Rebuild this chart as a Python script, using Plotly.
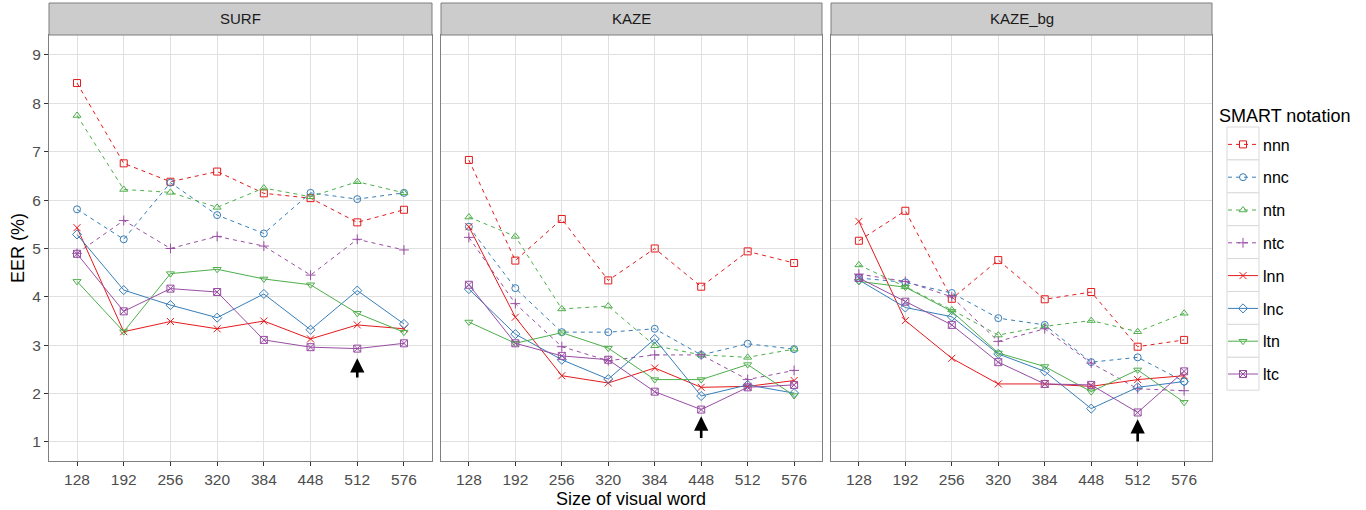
import plotly.graph_objects as go

# ---------------- data ----------------
sizes = [128, 192, 256, 320, 384, 448, 512, 576]
size_labels = ["128", "192", "256", "320", "384", "448", "512", "576"]
panels = ["SURF", "KAZE", "KAZE_bg"]
series = ["nnn", "nnc", "ntn", "ntc", "lnn", "lnc", "ltn", "ltc"]

surf_nnn = [8.42, 6.76, 6.38, 6.59, 6.14, 6.04, 5.54, 5.80]
surf_nnc = [5.81, 5.19, 6.36, 5.69, 5.31, 6.15, 6.02, 6.15]
surf_ntn = [7.75, 6.22, 6.16, 5.85, 6.25, 6.07, 6.38, 6.15]
surf_ntc = [4.90, 5.58, 5.00, 5.25, 5.05, 4.45, 5.19, 4.97]
surf_lnn = [5.43, 3.28, 3.49, 3.34, 3.50, 3.13, 3.42, 3.34]
surf_lnc = [5.29, 4.14, 3.83, 3.57, 4.06, 3.32, 4.13, 3.44]
surf_ltn = [4.32, 3.28, 4.48, 4.57, 4.37, 4.25, 3.66, 3.27]
surf_ltc = [4.89, 3.70, 4.17, 4.10, 3.11, 2.96, 2.93, 3.04]

kaze_nnn = [6.83, 4.75, 5.61, 4.34, 5.00, 4.21, 4.94, 4.70]
kaze_nnc = [5.45, 4.18, 3.27, 3.27, 3.34, 2.80, 3.03, 2.92]
kaze_ntn = [5.65, 5.25, 3.75, 3.81, 2.99, 2.80, 2.75, 2.92]
kaze_ntc = [5.23, 3.86, 2.97, 2.68, 2.80, 2.80, 2.29, 2.48]
kaze_lnn = [5.45, 3.58, 2.37, 2.22, 2.53, 2.13, 2.15, 2.27]
kaze_lnc = [4.16, 3.23, 2.70, 2.30, 3.13, 1.95, 2.18, 2.01]
kaze_ltn = [3.48, 3.04, 3.26, 2.94, 2.29, 2.29, 2.60, 1.96]
kaze_ltc = [4.25, 3.04, 2.78, 2.70, 2.04, 1.67, 2.13, 2.18]

kazebg_nnn = [5.16, 5.78, 3.96, 4.76, 3.95, 4.10, 2.97, 3.11]
kazebg_nnc = [4.39, 4.30, 4.08, 3.56, 3.42, 2.65, 2.75, 2.25]
kazebg_ntn = [4.66, 4.21, 3.73, 3.21, 3.39, 3.51, 3.28, 3.66]
kazebg_ntc = [4.47, 4.32, 4.00, 3.08, 3.34, 2.63, 2.10, 2.06]
kazebg_lnn = [5.56, 3.51, 2.73, 2.20, 2.20, 2.15, 2.29, 2.37]
kazebg_lnc = [4.35, 3.78, 3.59, 2.82, 2.46, 1.69, 2.13, 2.25]
kazebg_ltn = [4.32, 4.20, 3.70, 2.84, 2.56, 2.04, 2.49, 1.82]
kazebg_ltc = [4.39, 3.90, 3.42, 2.65, 2.20, 2.18, 1.61, 2.46]

# best configuration arrows: (x position, arrow head value, arrow tail value)
arrow_x = [512, 448, 512]
arrow_head = [2.73, 1.53, 1.47]
arrow_tail = [2.30, 1.05, 0.98]

panel_data = [
    [surf_nnn, surf_nnc, surf_ntn, surf_ntc, surf_lnn, surf_lnc, surf_ltn, surf_ltc],
    [kaze_nnn, kaze_nnc, kaze_ntn, kaze_ntc, kaze_lnn, kaze_lnc, kaze_ltn, kaze_ltc],
    [kazebg_nnn, kazebg_nnc, kazebg_ntn, kazebg_ntc, kazebg_lnn, kazebg_lnc, kazebg_ltn, kazebg_ltc],
]

# ---------------- styles ----------------
RED, BLUE, GREEN, PURPLE = "#E41A1C", "#377EB8", "#4DAF4A", "#984EA3"
colors = [RED, BLUE, GREEN, PURPLE, RED, BLUE, GREEN, PURPLE]
dashes = ["4px,4px"] * 4 + ["solid"] * 4
symbols = ["square-open", "circle-open", "triangle-up-open", "cross-thin-open",
           "x-thin-open", "diamond-open", "triangle-down-open", "square-x-open"]

FONT = "Liberation Sans, Arial, sans-serif"
W, H = 1366, 510
ML, MR, MT, MB = 49, 154, 3, 49
PW, PH = W - ML - MR, H - MT - MB


def px_x(p):
    return (p - ML) / PW


def px_y(p):
    return (H - MB - p) / PH


domains = [[0.0, px_x(432)], [px_x(441), px_x(822)], [px_x(831), 1.0]]
ydom = [0.0, px_y(35)]

fig = go.Figure()
for pi in range(3):
    xa = "x" if pi == 0 else f"x{pi+1}"
    ya = "y" if pi == 0 else f"y{pi+1}"
    for si, name in enumerate(series):
        fig.add_trace(go.Scatter(
            x=sizes, y=panel_data[pi][si], name=name,
            mode="lines+markers", xaxis=xa, yaxis=ya,
            legendgroup=name, showlegend=(pi == 0),
            line=dict(color=colors[si], width=1, dash=dashes[si]),
            marker=dict(symbol=symbols[si], size=7, color=colors[si],
                        line=dict(color=colors[si], width=1)),
        ))

axis_common = dict(
    showgrid=True, gridcolor="#E0E0E0", gridwidth=1,
    showline=True, linecolor="#7F7F7F", linewidth=1, mirror=True,
    ticks="outside", ticklen=4, tickcolor="#333333", tickwidth=1,
    tickfont=dict(family=FONT, size=15.5, color="#4D4D4D"),
    zeroline=False, automargin=False,
)

layout = dict(
    width=W, height=H,
    margin=dict(l=ML, r=MR, t=MT, b=MB, pad=0, autoexpand=False),
    paper_bgcolor="white", plot_bgcolor="white",
    font=dict(family=FONT, color="#1A1A1A"),
    hovermode=False,
    legend=dict(
        x=px_x(1223), y=px_y(127.5), xanchor="left", yanchor="top",
        font=dict(family=FONT, size=16, color="#000000"),
        tracegroupgap=9, traceorder="grouped",
        bgcolor="rgba(0,0,0,0)", itemwidth=30,
    ),
)
for pi in range(3):
    xk = "xaxis" if pi == 0 else f"xaxis{pi+1}"
    yk = "yaxis" if pi == 0 else f"yaxis{pi+1}"
    layout[xk] = dict(axis_common, domain=domains[pi], range=[89.6, 614.4],
                      tickmode="array", tickvals=sizes, ticktext=size_labels,
                      anchor="y" if pi == 0 else f"y{pi+1}")
    layout[yk] = dict(axis_common, domain=ydom, range=[0.607, 9.413],
                      tickmode="array", tickvals=list(range(1, 10)),
                      showticklabels=(pi == 0), ticks="outside" if pi == 0 else "",
                      anchor="x" if pi == 0 else f"x{pi+1}")
fig.update_layout(**layout)

shapes = []
annotations = []
for pi, title in enumerate(panels):
    d0, d1 = domains[pi]
    shapes.append(dict(type="rect", xref="paper", yref="paper",
                       x0=d0, x1=d1, y0=px_y(35), y1=px_y(3),
                       fillcolor="#CCCCCC", line=dict(color="#7F7F7F", width=1),
                       layer="above"))
    annotations.append(dict(text=title, xref="paper", yref="paper",
                            x=(d0 + d1) / 2, y=px_y(19), showarrow=False,
                            xanchor="center", yanchor="middle",
                            font=dict(family=FONT, size=15, color="#1A1A1A")))
    xa = "x" if pi == 0 else f"x{pi+1}"
    ya = "y" if pi == 0 else f"y{pi+1}"
    annotations.append(dict(text="", x=arrow_x[pi], y=arrow_head[pi],
                            ax=arrow_x[pi], ay=arrow_tail[pi],
                            xref=xa, yref=ya, axref=xa, ayref=ya,
                            showarrow=True, arrowhead=2, arrowsize=1.1,
                            arrowwidth=2.6, arrowcolor="#000000", standoff=0))

# legend key boxes (ggplot style)
for i in range(8):
    top = 127 + 32.9 * i
    shapes.append(dict(type="rect", xref="paper", yref="paper",
                       x0=px_x(1227), x1=px_x(1259), y0=px_y(top + 32.9), y1=px_y(top),
                       fillcolor="white", line=dict(color="#D9D9D9", width=1),
                       layer="below"))

annotations.append(dict(text="SMART notation", xref="paper", yref="paper",
                        x=px_x(1217), y=px_y(116), showarrow=False,
                        xanchor="left", yanchor="middle",
                        font=dict(family=FONT, size=18, color="#000000")))
annotations.append(dict(text="Size of visual word", xref="paper", yref="paper",
                        x=0.5, y=px_y(499), showarrow=False,
                        xanchor="center", yanchor="middle",
                        font=dict(family=FONT, size=18, color="#000000")))
annotations.append(dict(text="EER (%)", xref="paper", yref="paper",
                        x=px_x(18), y=px_y(248), showarrow=False, textangle=-90,
                        xanchor="center", yanchor="middle",
                        font=dict(family=FONT, size=18, color="#000000")))

fig.update_layout(shapes=shapes, annotations=annotations)
fig.write_html("out.html", config={"displayModeBar": False},
               post_script="document.body.style.margin='0px';")
